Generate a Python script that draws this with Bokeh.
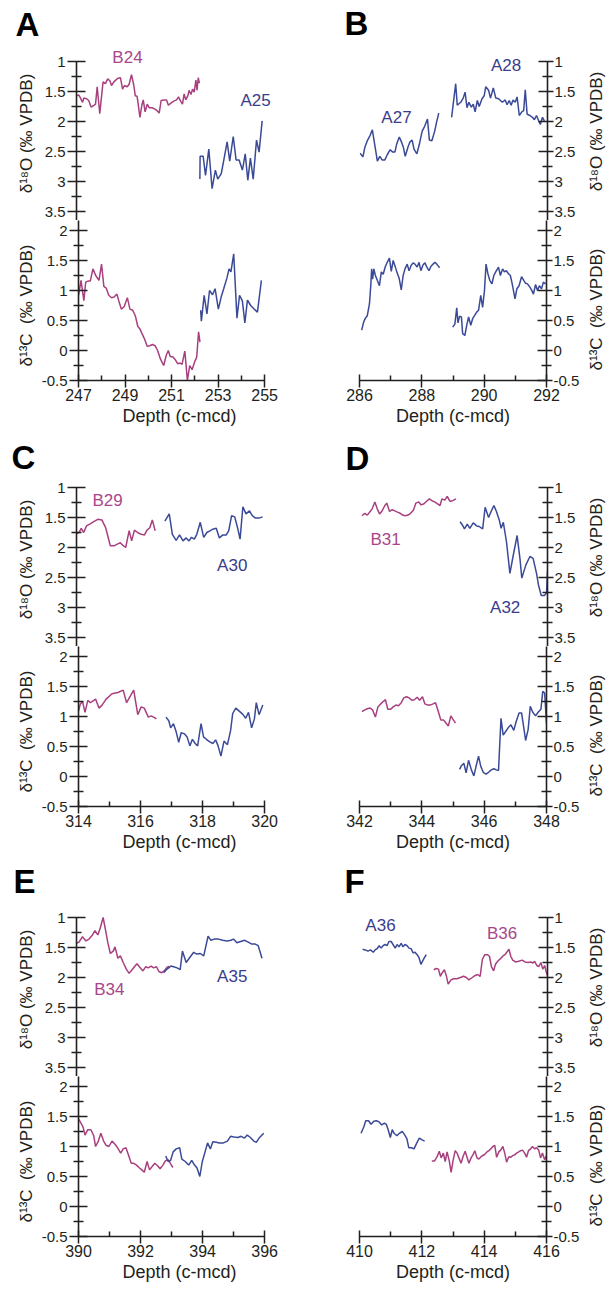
from math import pi
from bokeh.plotting import figure
from bokeh.layouts import column, row
from bokeh.models import Range1d, FixedTicker, CustomJSTickFormatter, Label, Plot
from bokeh.embed import file_html
from bokeh.resources import INLINE

FONT = "Liberation Sans"
INK = "#231F20"
MAG = "#A8407F"
MAG_T = "#A9468A"
BLU = "#3B4A97"
BLU_T = "#3A3C8C"

# ---------------- data (depth in c-mcd, isotopes in permil VPDB) ----------------
B24_O_X = [247.00,247.10,247.17,247.26,247.31,247.43,247.52,247.62,247.74,247.81,247.88,247.99,248.13,248.23,248.33,248.42,248.49,248.59,248.67,248.76,248.87,248.96,249.04,249.16,249.24,249.34,249.44,249.50,249.58,249.70,249.78,249.84,249.92,250.01,250.09,250.21,250.32,250.43,250.52,250.60,250.72,250.83,250.91,251.03,251.14,251.26,251.34,251.43,251.51,251.58,251.65,251.74,251.79,251.87,251.94,252.01,252.08,252.13,252.18,252.23]
B24_O_Y = [1.57,1.56,1.61,1.68,1.61,1.62,1.65,1.76,1.73,1.71,1.42,1.87,1.34,1.37,1.29,1.32,1.40,1.34,1.31,1.28,1.27,1.46,1.40,1.42,1.38,1.22,1.40,1.57,1.58,1.93,1.73,1.64,1.84,1.71,1.77,1.77,1.79,1.82,1.86,1.65,1.64,1.64,1.73,1.69,1.66,1.64,1.59,1.66,1.71,1.54,1.64,1.57,1.48,1.55,1.46,1.51,1.31,1.48,1.27,1.36]
B24_C_X = [247.00,247.11,247.23,247.31,247.43,247.51,247.62,247.74,247.88,247.99,248.09,248.19,248.30,248.42,248.53,248.65,248.73,248.84,248.96,249.10,249.21,249.33,249.44,249.55,249.64,249.72,249.84,249.95,250.06,250.18,250.29,250.40,250.52,250.66,250.77,250.86,250.94,251.06,251.17,251.26,251.37,251.45,251.57,251.68,251.78,251.88,251.99,252.08,252.16,252.22]
B24_C_Y = [0.92,1.17,0.83,1.14,1.16,1.16,1.36,1.25,1.17,1.44,1.07,1.04,0.92,0.88,0.89,0.94,0.83,0.69,0.73,0.88,0.69,0.67,0.58,0.40,0.36,0.29,0.19,0.07,0.08,0.10,0.08,0.00,-0.14,-0.25,-0.08,0.00,-0.10,-0.11,-0.16,-0.22,-0.21,-0.23,-0.01,-0.50,-0.25,-0.32,-0.19,-0.11,0.31,0.14]

A25_O_X = [252.25,252.26,252.39,252.49,252.63,252.77,252.91,253.01,253.16,253.27,253.41,253.52,253.67,253.79,253.92,254.06,254.18,254.29,254.40,254.52,254.66,254.77,254.90]
A25_O_Y = [2.96,2.58,2.58,2.90,2.46,3.12,2.81,2.96,2.87,2.64,2.34,2.66,2.25,2.64,2.64,2.81,2.54,2.98,2.61,2.96,2.31,2.51,1.99]
A25_C_X = [252.25,252.28,252.40,252.52,252.63,252.76,252.87,253.01,253.13,253.24,253.38,253.47,253.55,253.67,253.81,253.92,254.04,254.15,254.26,254.40,254.55,254.69,254.86]
A25_C_Y = [0.67,0.49,0.92,0.61,1.00,0.93,1.03,0.69,0.89,1.03,1.21,1.36,1.31,1.61,0.54,0.92,0.83,0.46,0.84,0.75,0.69,0.64,1.17]

A27_O_X = [286.02,286.11,286.17,286.25,286.34,286.41,286.50,286.57,286.65,286.72,286.81,286.89,286.98,287.06,287.13,287.19,287.27,287.34,287.40,287.46,287.55,287.61,287.68,287.74,287.83,287.91,288.00,288.08,288.17,288.23,288.31,288.40,288.46,288.53]
A27_O_Y = [2.53,2.59,2.43,2.32,2.23,2.14,2.43,2.66,2.58,2.64,2.64,2.55,2.47,2.51,2.51,2.37,2.26,2.34,2.43,2.58,2.42,2.34,2.31,2.46,2.54,2.38,2.16,2.08,1.96,2.31,2.32,2.16,2.01,1.86]
A27_C_X = [286.07,286.13,286.19,286.25,286.32,286.36,286.39,286.42,286.46,286.51,286.57,286.64,286.70,286.76,286.83,286.89,286.96,287.02,287.08,287.15,287.21,287.27,287.34,287.40,287.46,287.53,287.59,287.66,287.72,287.78,287.85,287.91,287.97,288.04,288.10,288.17,288.23,288.29,288.36,288.42,288.48,288.57]
A27_C_Y = [0.34,0.47,0.54,0.58,0.78,1.07,1.36,1.19,1.36,1.25,1.17,1.08,1.31,1.27,1.40,1.47,1.54,1.32,1.50,1.39,1.29,1.21,1.01,1.25,1.36,1.44,1.33,1.42,1.46,1.44,1.39,1.47,1.33,1.43,1.46,1.38,1.33,1.40,1.44,1.47,1.44,1.38]

A28_O_X = [288.94,289.07,289.12,289.23,289.31,289.37,289.43,289.49,289.57,289.63,289.69,289.76,289.82,289.91,289.98,290.03,290.12,290.18,290.27,290.35,290.44,290.50,290.56,290.65,290.71,290.78,290.84,290.90,290.97,291.03,291.10,291.18,291.24,291.29,291.35,291.44,291.52,291.58,291.65,291.71,291.77,291.84,291.90]
A28_O_Y = [1.93,1.37,1.73,1.68,1.61,1.51,1.77,1.68,1.76,1.71,1.84,1.65,1.75,1.62,1.57,1.42,1.48,1.61,1.44,1.61,1.62,1.65,1.68,1.64,1.72,1.65,1.73,1.64,1.68,1.59,1.90,1.84,1.82,1.47,1.88,1.90,1.93,1.97,1.90,1.98,2.05,1.93,1.99]
A28_C_X = [288.99,289.06,289.12,289.16,289.21,289.27,289.31,289.38,289.44,289.50,289.57,289.63,289.69,289.76,289.82,289.89,289.95,290.01,290.06,290.12,290.18,290.25,290.31,290.37,290.46,290.52,290.59,290.65,290.71,290.78,290.84,290.90,290.99,291.05,291.12,291.20,291.27,291.33,291.39,291.46,291.52,291.58,291.65,291.71,291.77,291.84,291.90,291.97]
A28_C_Y = [0.39,0.44,0.71,0.46,0.57,0.56,0.28,0.25,0.42,0.56,0.42,0.53,0.58,0.64,0.67,0.92,0.72,1.00,1.44,1.28,1.17,1.11,1.25,1.31,1.39,1.25,1.36,1.31,1.33,1.28,1.25,1.11,0.86,1.03,1.08,1.23,1.17,1.12,1.11,1.06,1.01,0.94,1.10,1.00,1.08,1.03,1.14,1.11]

B29_O_X = [314.00,314.08,314.15,314.23,314.32,314.42,314.55,314.68,314.81,314.93,315.08,315.21,315.32,315.40,315.49,315.57,315.68,315.76,315.85,315.95,316.06,316.17,316.25,316.34,316.42,316.51]
B29_O_Y = [1.77,1.75,1.68,1.75,1.64,1.61,1.57,1.53,1.54,1.67,1.97,1.97,1.94,1.92,1.97,2.00,1.72,1.89,1.71,1.75,1.78,1.79,1.71,1.67,1.54,1.72]
B29_C_X = [314.00,314.06,314.13,314.21,314.30,314.38,314.47,314.55,314.66,314.76,314.89,315.08,315.27,315.44,315.55,315.66,315.78,315.91,316.02,316.12,316.25,316.34,316.42,316.51]
B29_C_Y = [1.09,1.21,1.25,1.07,1.27,1.23,1.26,1.29,1.14,1.19,1.29,1.38,1.40,1.44,1.23,1.33,1.44,1.03,1.16,1.14,0.99,1.01,0.99,0.96]

A30_O_X = [316.82,316.96,317.06,317.18,317.29,317.40,317.50,317.59,317.67,317.76,317.84,317.95,318.06,318.16,318.27,318.37,318.46,318.56,318.67,318.78,318.86,318.95,319.05,319.14,319.22,319.31,319.41,319.52,319.61,319.71,319.82,319.94]
A30_O_Y = [1.56,1.44,1.78,1.88,1.79,1.89,1.84,1.89,1.83,1.86,1.78,1.58,1.83,1.75,1.72,1.69,1.68,1.84,1.79,1.79,1.72,1.47,1.49,1.67,1.86,1.32,1.44,1.39,1.47,1.51,1.51,1.49]
A30_C_X = [316.82,316.91,316.97,317.06,317.14,317.23,317.31,317.42,317.50,317.59,317.67,317.76,317.84,317.95,318.03,318.12,318.22,318.33,318.42,318.50,318.59,318.69,318.80,318.90,318.97,319.07,319.18,319.29,319.39,319.48,319.58,319.67,319.73,319.82,319.94]
A30_C_Y = [0.99,0.93,0.81,0.88,0.76,0.57,0.73,0.71,0.66,0.51,0.62,0.55,0.51,0.88,0.66,0.62,0.58,0.55,0.61,0.51,0.34,0.59,0.53,0.76,1.05,1.14,1.09,1.04,0.97,1.07,0.81,0.96,1.23,1.03,1.19]

B31_O_X = [342.08,342.17,342.25,342.34,342.40,342.49,342.57,342.64,342.72,342.81,342.87,342.96,343.04,343.13,343.21,343.30,343.38,343.46,343.55,343.63,343.72,343.80,343.89,343.97,344.06,344.14,344.23,344.31,344.40,344.48,344.57,344.63,344.72,344.80,344.89,344.97,345.08]
B31_O_Y = [1.47,1.43,1.46,1.40,1.36,1.24,1.36,1.44,1.39,1.30,1.26,1.40,1.37,1.39,1.41,1.43,1.46,1.47,1.46,1.43,1.38,1.26,1.24,1.29,1.27,1.23,1.19,1.22,1.24,1.27,1.30,1.19,1.21,1.15,1.23,1.22,1.19]
B31_C_X = [342.08,342.17,342.25,342.34,342.42,342.51,342.59,342.68,342.76,342.83,342.91,343.00,343.08,343.17,343.25,343.34,343.42,343.51,343.59,343.68,343.76,343.85,343.93,344.02,344.10,344.19,344.27,344.36,344.44,344.53,344.61,344.70,344.76,344.85,344.93,344.99,345.08]
B31_C_Y = [1.08,1.11,1.13,1.14,1.11,0.99,1.16,1.21,1.25,1.28,1.12,1.12,1.16,1.19,1.18,1.23,1.31,1.33,1.31,1.27,1.28,1.32,1.27,1.33,1.21,1.19,1.19,1.21,1.23,1.08,0.94,0.94,0.90,0.84,1.01,0.96,0.89]

A32_O_X = [345.21,345.29,345.35,345.44,345.52,345.63,345.74,345.82,345.93,346.01,346.12,346.20,346.29,346.37,346.46,346.52,346.59,346.69,346.80,346.90,347.03,347.12,347.18,347.31,347.44,347.54,347.65,347.71,347.80,347.90,347.97,348.00]
A32_O_Y = [1.57,1.63,1.69,1.61,1.68,1.59,1.64,1.65,1.69,1.33,1.50,1.40,1.30,1.40,1.54,1.68,1.58,1.90,2.43,2.15,1.80,2.18,2.51,2.29,2.15,2.18,2.43,2.62,2.80,2.80,2.76,2.39]
A32_C_X = [345.21,345.27,345.35,345.42,345.50,345.59,345.67,345.74,345.82,345.89,345.97,346.06,346.14,346.23,346.31,346.39,346.46,346.54,346.61,346.69,346.78,346.86,346.95,347.03,347.12,347.20,347.27,347.33,347.41,347.48,347.56,347.65,347.73,347.82,347.88,347.94,348.00]
A32_C_Y = [0.12,0.18,0.22,0.06,0.27,0.11,0.01,0.17,0.34,0.17,0.07,0.04,0.07,0.11,0.13,0.11,0.10,0.97,0.69,0.75,0.82,0.86,0.77,0.92,1.06,1.06,0.82,0.60,0.78,1.17,1.07,1.01,1.07,1.12,1.42,1.39,0.89]

B34_O_X = [390.00,390.08,390.19,390.30,390.40,390.51,390.59,390.68,390.76,390.85,390.93,391.00,391.08,391.17,391.23,391.32,391.40,391.49,391.59,391.68,391.76,391.85,391.93,392.02,392.12,392.21,392.29,392.38,392.46,392.55,392.63,392.72,392.80,392.89,392.95]
B34_O_Y = [1.43,1.41,1.32,1.39,1.36,1.29,1.22,1.29,1.17,1.00,1.22,1.42,1.60,1.56,1.49,1.68,1.64,1.75,1.86,1.93,1.88,1.82,1.77,1.83,1.89,1.82,1.84,1.81,1.84,1.82,1.90,1.92,1.89,1.83,1.81]
B34_C_X = [390.00,390.08,390.15,390.21,390.30,390.40,390.49,390.55,390.64,390.72,390.81,390.89,390.98,391.08,391.19,391.27,391.36,391.44,391.53,391.61,391.70,391.78,391.87,391.95,392.04,392.12,392.21,392.29,392.38,392.46,392.55,392.63,392.72,392.80,392.89,392.97,393.04]
B34_C_Y = [1.46,1.39,1.32,1.19,1.28,1.28,1.18,1.00,1.09,1.22,1.09,1.02,1.00,1.09,1.03,0.97,0.89,0.96,0.98,0.86,0.72,0.72,0.69,0.65,0.61,0.57,0.75,0.61,0.67,0.72,0.68,0.63,0.69,0.76,0.78,0.71,0.65]

A35_O_X = [392.78,392.89,393.01,393.10,393.21,393.31,393.38,393.50,393.61,393.74,393.84,393.95,394.06,394.20,394.29,394.39,394.53,394.67,394.80,394.93,395.01,395.12,395.24,395.37,395.48,395.58,395.69,395.80,395.92]
A35_O_Y = [1.92,1.86,1.81,1.82,1.84,1.87,1.56,1.75,1.67,1.58,1.61,1.60,1.64,1.31,1.38,1.36,1.36,1.38,1.39,1.38,1.36,1.42,1.40,1.38,1.41,1.44,1.44,1.47,1.68]
A35_C_X = [392.81,392.89,392.97,393.05,393.15,393.26,393.33,393.44,393.55,393.65,393.74,393.82,393.91,393.99,394.08,394.16,394.25,394.33,394.44,394.54,394.67,394.80,394.90,395.01,395.14,395.24,395.35,395.44,395.54,395.65,395.73,395.82,395.97]
A35_C_Y = [0.84,0.75,0.77,0.91,0.96,0.98,0.79,0.75,0.69,0.77,0.69,0.64,0.50,0.75,0.91,1.06,0.96,1.08,1.07,1.06,1.06,1.09,1.17,1.16,1.15,1.17,1.14,1.19,1.15,1.09,1.07,1.14,1.22]

A36_O_X = [410.10,410.18,410.27,410.35,410.44,410.50,410.56,410.63,410.69,410.75,410.82,410.88,410.94,411.01,411.07,411.14,411.20,411.26,411.33,411.39,411.45,411.52,411.58,411.65,411.71,411.77,411.84,411.90,411.96,412.05,412.13]
A36_O_Y = [1.53,1.54,1.56,1.54,1.58,1.54,1.52,1.47,1.51,1.47,1.45,1.47,1.40,1.40,1.45,1.51,1.45,1.49,1.43,1.49,1.45,1.47,1.51,1.52,1.59,1.58,1.62,1.67,1.78,1.69,1.62]
A36_C_X = [410.05,410.14,410.20,410.29,410.37,410.46,410.54,410.63,410.71,410.80,410.86,410.92,410.99,411.05,411.11,411.20,411.28,411.37,411.43,411.52,411.58,411.67,411.75,411.84,411.92,412.01,412.09]
A36_C_Y = [1.22,1.33,1.43,1.43,1.37,1.42,1.43,1.41,1.36,1.39,1.37,1.28,1.15,1.28,1.22,1.18,1.22,1.25,1.21,1.13,0.98,0.98,0.96,1.06,1.14,1.11,1.09]

B36_O_X = [412.37,412.45,412.52,412.58,412.64,412.71,412.77,412.83,412.92,413.00,413.11,413.22,413.32,413.41,413.49,413.60,413.68,413.77,413.85,413.92,414.00,414.09,414.15,414.21,414.28,414.34,414.41,414.49,414.58,414.64,414.70,414.77,414.83,414.89,414.98,415.08,415.19,415.28,415.38,415.47,415.53,415.59,415.66,415.72,415.79,415.85,415.91,415.96,416.00]
B36_O_Y = [1.87,1.85,1.86,1.98,1.92,1.87,1.97,2.11,2.04,2.02,2.02,2.00,1.98,2.00,2.04,2.00,1.97,1.95,1.98,1.70,1.62,1.62,1.65,1.82,1.89,1.78,1.73,1.69,1.64,1.62,1.58,1.53,1.65,1.71,1.74,1.73,1.71,1.74,1.75,1.74,1.76,1.73,1.80,1.82,1.75,1.86,1.80,1.91,1.97]
B36_C_X = [412.32,412.41,412.49,412.56,412.62,412.69,412.75,412.81,412.88,412.94,413.00,413.07,413.13,413.19,413.26,413.32,413.39,413.45,413.51,413.58,413.64,413.70,413.77,413.83,413.90,413.96,414.02,414.09,414.15,414.21,414.28,414.34,414.40,414.47,414.53,414.60,414.66,414.72,414.79,414.85,414.92,414.98,415.04,415.11,415.17,415.23,415.30,415.36,415.42,415.49,415.55,415.62,415.68,415.75,415.81,415.87,415.94,416.00]
B36_C_Y = [0.76,0.76,0.83,0.92,0.81,0.89,0.75,0.91,0.76,0.57,0.76,0.93,0.89,0.81,0.72,0.83,0.92,0.82,0.72,0.81,0.86,0.93,0.81,0.79,0.83,0.85,0.87,0.91,0.93,0.96,1.00,1.02,0.82,0.91,0.94,1.00,0.89,0.74,0.83,0.82,0.85,0.86,0.89,0.91,0.93,0.94,0.89,0.82,0.93,0.96,1.00,0.96,0.98,0.94,0.81,0.89,0.78,0.85]

# axis ticks and labels
O_TICKS = [1, 1.5, 2, 2.5, 3, 3.5]
O_MINOR = [1.25, 1.75, 2.25, 2.75, 3.25]
C_TICKS = [-0.5, 0, 0.5, 1, 1.5, 2]
C_MINOR = [-0.25, 0.25, 0.75, 1.25, 1.75]
O_LABEL = "δ¹⁸O (‰ VPDB)"
C_LABEL = "δ¹³C\u00a0\u00a0(‰ VPDB)"
X_LABEL = "Depth (c-mcd)"

PANELS = [
    dict(letter="A", side="left", xr=(247, 255), xt=[247, 249, 251, 253, 255], xm=[248, 250, 252, 254],
         series=[(MAG, B24_O_X, B24_O_Y, B24_C_X, B24_C_Y), (BLU, A25_O_X, A25_O_Y, A25_C_X, A25_C_Y)],
         names=[("B24", 249.17, 0.93, MAG_T), ("A25", 254.62, 1.65, BLU_T)], lpos=(27, 20)),
    dict(letter="B", side="right", xr=(286, 292), xt=[286, 288, 290, 292], xm=[287, 289, 291],
         series=[(BLU, A27_O_X, A27_O_Y, A27_C_X, A27_C_Y), (BLU, A28_O_X, A28_O_Y, A28_C_X, A28_C_Y)],
         names=[("A27", 287.18, 1.93, BLU_T), ("A28", 290.68, 1.07, BLU_T)], lpos=(53, 21)),
    dict(letter="C", side="left", xr=(314, 320), xt=[314, 316, 318, 320], xm=[315, 317, 319],
         series=[(MAG, B29_O_X, B29_O_Y, B29_C_X, B29_C_Y), (BLU, A30_O_X, A30_O_Y, A30_C_X, A30_C_Y)],
         names=[("B29", 314.99, 1.22, MAG_T), ("A30", 318.97, 2.30, BLU_T)], lpos=(23, 19)),
    dict(letter="D", side="right", xr=(342, 348), xt=[342, 344, 346, 348], xm=[343, 345, 347],
         series=[(MAG, B31_O_X, B31_O_Y, B31_C_X, B31_C_Y), (BLU, A32_O_X, A32_O_Y, A32_C_X, A32_C_Y)],
         names=[("B31", 342.83, 1.87, MAG_T), ("A32", 346.65, 3.00, BLU_T)], lpos=(54, 18)),
    dict(letter="E", side="left", xr=(390, 396), xt=[390, 392, 394, 396], xm=[391, 393, 395],
         series=[(MAG, B34_O_X, B34_O_Y, B34_C_X, B34_C_Y), (BLU, A35_O_X, A35_O_Y, A35_C_X, A35_C_Y)],
         names=[("B34", 391.05, 2.20, MAG_T), ("A35", 394.97, 1.98, BLU_T)], lpos=(24, 19)),
    dict(letter="F", side="right", xr=(410, 416), xt=[410, 412, 414, 416], xm=[411, 413, 415],
         series=[(BLU, A36_O_X, A36_O_Y, A36_C_X, A36_C_Y), (MAG, B36_O_X, B36_O_Y, B36_C_X, B36_C_Y)],
         names=[("A36", 410.67, 1.13, BLU_T), ("B36", 414.55, 1.27, MAG_T)], lpos=(51, 19)),
]

for pn in PANELS:
    for s in pn["series"]:
        assert len(s[1]) == len(s[2]) and len(s[3]) == len(s[4]), pn["letter"]

# ---------------- layout geometry (pixels; the page has no margin) ----------------
COL_W = 303                          # width of each column of panels
LAB_L, LAB_R = 38, 24                # strips holding the rotated y titles
FRAME_W = 188
PX_PER_UNIT = 60                     # vertical pixels per permil
HEAD_H = [44, 42, 40]
TOP_EXT = [17, 11, 17]               # frame room above the "1" tick of the upper axis
BOT_H = [214, 214, 213]
SPLIT_O, SPLIT_C = 3.65, 2.1667      # values at the join of upper and lower frames
EXTRA_RIGHT = 16                     # room right of the x-axis end (left panels)
FMT = CustomJSTickFormatter(code="return String(tick)")
HAS_ALIGN = "frame_align" in Plot.properties()


def base_fig(**kw):
    p = figure(output_backend="svg", toolbar_location=None, outline_line_color=None,
               background_fill_color="white", border_fill_color="white", **kw)
    p.grid.visible = False
    if HAS_ALIGN:
        p.frame_align = False
    return p


def blank(w, h):
    return base_fig(width=w, height=h, x_range=Range1d(0, w), y_range=Range1d(0, h),
                    x_axis_location=None, y_axis_location=None, min_border=0,
                    min_border_left=0, min_border_right=0, min_border_top=0, min_border_bottom=0)


def style_common(ax):
    ax.formatter = FMT
    ax.axis_line_color = INK
    ax.axis_line_width = 1.6
    ax.major_tick_line_color = INK
    ax.major_tick_line_width = 1.5
    ax.minor_tick_line_color = INK
    ax.minor_tick_line_width = 1.5
    ax.major_label_text_font = FONT
    ax.major_label_text_color = INK


def style_y(ax, ticks, minor, bounds, side):
    style_common(ax)
    ax.ticker = FixedTicker(ticks=ticks, minor_ticks=minor)
    ax.bounds = bounds
    ax.major_tick_in = 9
    ax.major_tick_out = 9 if side == "left" else 6
    ax.minor_tick_in = 5
    ax.minor_tick_out = 5
    ax.major_label_text_font_size = "15px"
    ax.major_label_standoff = 2 if side == "left" else 1


def style_x(xa, pn):
    style_common(xa)
    xa.ticker = FixedTicker(ticks=pn["xt"], minor_ticks=pn["xm"])
    xa.bounds = pn["xr"]
    xa.major_tick_in = 6
    xa.major_tick_out = 7
    xa.minor_tick_in = 5
    xa.minor_tick_out = 0
    xa.major_label_text_font_size = "16px"
    xa.major_label_standoff = 1
    xa.axis_label = X_LABEL
    xa.axis_label_text_font = FONT
    xa.axis_label_text_font_size = "18px"
    xa.axis_label_text_font_style = "normal"
    xa.axis_label_text_color = INK
    xa.axis_label_standoff = 2


def make_head(pn, r):
    head = blank(COL_W, HEAD_H[r])
    lx, ly = pn["lpos"]
    head.add_layout(Label(x=lx, y=ly, text=pn["letter"], text_font=FONT, text_font_size="33px",
                          text_font_style="bold", text_color="black",
                          text_align="center", text_baseline="middle"))
    return head


def title_strip(w, h, xc, yc, text):
    s = blank(w, h)
    s.add_layout(Label(x=xc, y=yc, text=text, angle=pi / 2, text_font=FONT,
                       text_font_size="17px", text_color=INK,
                       text_align="center", text_baseline="middle"))
    return s


def make_body(pn, r):
    side = pn["side"]
    x0, x1 = pn["xr"]
    ppu = FRAME_W / (x1 - x0)
    ext = TOP_EXT[r]
    top_h = round((SPLIT_O - 1) * PX_PER_UNIT) + ext
    o_top = 1 - ext / PX_PER_UNIT
    if side == "left":
        W = COL_W - LAB_L
        bl = 76 - LAB_L
        xr = Range1d(x0, x1 + EXTRA_RIGHT / ppu)
        fw = FRAME_W + EXTRA_RIGHT
    else:
        W = COL_W - LAB_R
        bl = 56
        xr = Range1d(x0, x1)
        fw = FRAME_W
    br = W - bl - fw
    common = dict(width=W, x_range=xr, min_border_left=bl, min_border_right=br,
                  y_axis_location=side)
    top = base_fig(height=top_h, y_range=Range1d(SPLIT_O, o_top), x_axis_location=None,
                   min_border_top=0, min_border_bottom=0, **common)
    bot = base_fig(height=BOT_H[r], y_range=Range1d(-0.5, SPLIT_C), x_axis_location="below",
                   min_border_top=0, min_border_bottom=BOT_H[r] - 160, **common)
    style_y(top.yaxis[0], O_TICKS, O_MINOR, (1, SPLIT_O), side)
    style_y(bot.yaxis[0], C_TICKS, C_MINOR, (-0.5, SPLIT_C), side)
    style_x(bot.xaxis[0], pn)

    for color, ox, oy, cx, cy in pn["series"]:
        top.line(ox, oy, line_color=color, line_width=1.5)
        bot.line(cx, cy, line_color=color, line_width=1.5)
    for name, nx, ny, col in pn["names"]:
        top.add_layout(Label(x=nx, y=ny, text=name, text_font=FONT, text_font_size="17px",
                             text_color=col, text_align="center", text_baseline="middle"))

    if side == "left":
        st = title_strip(LAB_L, top_h, 26, top_h - (ext + 72), O_LABEL)
        sb = title_strip(LAB_L, BOT_H[r], 26, BOT_H[r] - 85, C_LABEL)
        return column(row(st, top), row(sb, bot))
    st = title_strip(LAB_R, top_h, 14, top_h - (ext + 70), O_LABEL)
    sb = title_strip(LAB_R, BOT_H[r], 14, BOT_H[r] - 89, C_LABEL)
    return column(row(top, st), row(bot, sb))


rows = []
for r in range(3):
    L, R = PANELS[2 * r], PANELS[2 * r + 1]
    rows.append(row(make_head(L, r), make_head(R, r)))
    rows.append(row(make_body(L, r), make_body(R, r)))
layout = column(*rows)

open("out.html", "w").write(file_html(layout, INLINE, "Isotope records"))
